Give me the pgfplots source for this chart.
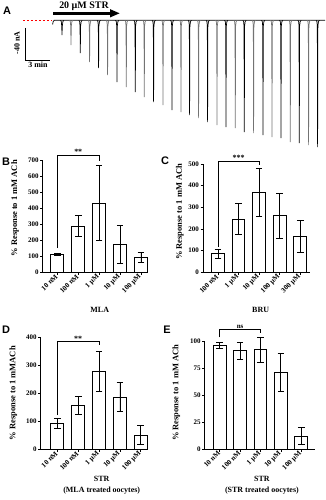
\documentclass[border=0pt]{standalone}
\usepackage{fontspec}
\setmainfont{Liberation Serif}
\newfontfamily\lsans{Liberation Sans}
\usepackage{pgfplots}
\pgfplotsset{compat=1.18}
\usetikzlibrary{arrows.meta}

\pgfplotsset{
  barpanel/.style={
    scale only axis, axis x line*=bottom, axis y line*=left, ymin=0,
    xtick={0,1,2,3,4}, tick align=outside, major tick length=2.5bp,
    every tick/.style={black, line width=0.7pt},
    axis line style={line width=0.9pt},
    clip=false,
    /pgf/number format/assume math mode=true,
    xticklabel style={rotate=45, anchor=east, inner sep=1pt, font=\bfseries\fontsize{7.2}{7.5}\selectfont},
    yticklabel style={inner sep=1.5pt, font=\bfseries\fontsize{7}{7.5}\selectfont},
    ylabel style={font=\bfseries\fontsize{8.5}{9}\selectfont, anchor=center},
    xlabel style={font=\bfseries\fontsize{8}{11}\selectfont, align=center, anchor=center},
  },
  bars/.style={ybar, bar width=0.62, fill=white, draw=black, line width=1pt,
    error bars/y dir=both, error bars/y explicit,
    error bars/error bar style={line width=0.8pt, black},
    error bars/error mark options={rotate=90, mark size=3.3bp, line width=0.8pt, black}},
  bracket/.style={black, line width=0.8pt, mark=none},
}

\begin{document}
\begin{tikzpicture}
\useasboundingbox (0,0) rectangle (326bp,-500bp);

% ---------------- Panel A ----------------
\begin{axis}[at={(0,0)}, anchor=north west, scale only axis, width=326bp, height=150bp,
  xmin=0, xmax=326, ymin=-150, ymax=0, axis lines=none, clip=false]
\addplot[red, line width=0.7pt, dash pattern=on 2.5pt off 1.5pt] coordinates {(23,-20) (51,-20)};
% baseline
\addplot[black, line width=0.7pt] coordinates {(52.6,-24.5) (53.2,-21.5) (54.2,-20.3) (325,-20.3)};
% odd spikes (dark)
\addplot[black, line width=0.7pt, unbounded coords=jump] coordinates {
(60.5,-20.3) (61.3,-21.5) (61.7,-26) (62.0,-35) (62.3,-26) (62.9,-21.5) (63.9,-20.3) (63.9,nan)
(78.8,-20.3) (79.6,-21.5) (80.0,-26) (80.3,-53) (80.6,-26) (81.2,-21.5) (82.2,-20.3) (82.2,nan)
(97.1,-20.3) (97.9,-21.5) (98.3,-26) (98.6,-68) (98.9,-26) (99.5,-21.5) (100.5,-20.3) (100.5,nan)
(115.5,-20.3) (116.3,-21.5) (116.7,-26) (117.0,-82) (117.3,-26) (117.9,-21.5) (118.9,-20.3) (118.9,nan)
(133.8,-20.3) (134.6,-21.5) (135.0,-26) (135.3,-92) (135.6,-26) (136.2,-21.5) (137.2,-20.3) (137.2,nan)
(152.1,-20.3) (152.9,-21.5) (153.3,-26) (153.6,-102) (153.9,-26) (154.5,-21.5) (155.5,-20.3) (155.5,nan)
(170.5,-20.3) (171.3,-21.5) (171.7,-26) (172.0,-110) (172.3,-26) (172.9,-21.5) (173.9,-20.3) (173.9,nan)
(188.1,-20.3) (188.9,-21.5) (189.3,-26) (189.6,-115) (189.9,-26) (190.5,-21.5) (191.5,-20.3) (191.5,nan)
(206.1,-20.3) (206.9,-21.5) (207.3,-26) (207.6,-122) (207.9,-26) (208.5,-21.5) (209.5,-20.3) (209.5,nan)
(224.5,-20.3) (225.3,-21.5) (225.7,-26) (226.0,-127) (226.3,-26) (226.9,-21.5) (227.9,-20.3) (227.9,nan)
(242.8,-20.3) (243.6,-21.5) (244.0,-26) (244.3,-132) (244.6,-26) (245.2,-21.5) (246.2,-20.3) (246.2,nan)
(261.5,-20.3) (262.3,-21.5) (262.7,-26) (263.0,-135) (263.3,-26) (263.9,-21.5) (264.9,-20.3) (264.9,nan)
(279.5,-20.3) (280.3,-21.5) (280.7,-26) (281.0,-138) (281.3,-26) (281.9,-21.5) (282.9,-20.3) (282.9,nan)
(297.8,-20.3) (298.6,-21.5) (299.0,-26) (299.3,-143) (299.6,-26) (300.2,-21.5) (301.2,-20.3) (301.2,nan)
(316.1,-20.3) (316.9,-21.5) (317.3,-26) (317.6,-147) (317.9,-26) (318.5,-21.5) (319.5,-20.3)
};
% even spikes (grey)
\addplot[black!55, line width=0.7pt, unbounded coords=jump] coordinates {
(69.5,-20.3) (70.3,-21.5) (70.7,-26) (71.0,-45) (71.3,-26) (71.9,-21.5) (72.9,-20.3) (72.9,nan)
(88.1,-20.3) (88.9,-21.5) (89.3,-26) (89.6,-62) (89.9,-26) (90.5,-21.5) (91.5,-20.3) (91.5,nan)
(106.1,-20.3) (106.9,-21.5) (107.3,-26) (107.6,-75) (107.9,-26) (108.5,-21.5) (109.5,-20.3) (109.5,nan)
(124.8,-20.3) (125.6,-21.5) (126.0,-26) (126.3,-87) (126.6,-26) (127.2,-21.5) (128.2,-20.3) (128.2,nan)
(142.8,-20.3) (143.6,-21.5) (144.0,-26) (144.3,-97) (144.6,-26) (145.2,-21.5) (146.2,-20.3) (146.2,nan)
(161.5,-20.3) (162.3,-21.5) (162.7,-26) (163.0,-105) (163.3,-26) (163.9,-21.5) (164.9,-20.3) (164.9,nan)
(179.5,-20.3) (180.3,-21.5) (180.7,-26) (181.0,-112) (181.3,-26) (181.9,-21.5) (182.9,-20.3) (182.9,nan)
(197.1,-20.3) (197.9,-21.5) (198.3,-26) (198.6,-118) (198.9,-26) (199.5,-21.5) (200.5,-20.3) (200.5,nan)
(215.5,-20.3) (216.3,-21.5) (216.7,-26) (217.0,-125) (217.3,-26) (217.9,-21.5) (218.9,-20.3) (218.9,nan)
(233.8,-20.3) (234.6,-21.5) (235.0,-26) (235.3,-128) (235.6,-26) (236.2,-21.5) (237.2,-20.3) (237.2,nan)
(252.1,-20.3) (252.9,-21.5) (253.3,-26) (253.6,-133) (253.9,-26) (254.5,-21.5) (255.5,-20.3) (255.5,nan)
(270.5,-20.3) (271.3,-21.5) (271.7,-26) (272.0,-137) (272.3,-26) (272.9,-21.5) (273.9,-20.3) (273.9,nan)
(288.8,-20.3) (289.6,-21.5) (290.0,-26) (290.3,-142) (290.6,-26) (291.2,-21.5) (292.2,-20.3) (292.2,nan)
(307.1,-20.3) (307.9,-21.5) (308.3,-26) (308.6,-145) (308.9,-26) (309.5,-21.5) (310.5,-20.3)
};
% scale bar
\addplot[black, line width=0.8pt] coordinates {(25,-28) (25,-60) (50,-60)};
\node[rotate=90, font=\bfseries\fontsize{8}{8}\selectfont] at (17,-43) {-40 nA};
\node[font=\bfseries\fontsize{8}{8}\selectfont] at (38,-64.5) {3 min};
\node[font=\bfseries\fontsize{10}{10}\selectfont] at (84,-6) {20 µM STR};
\draw[line width=2.6bp, -{Triangle[length=10bp, width=7.5bp]}] (53,-13.3) -- (120,-13.3);
\end{axis}

% ---------------- Panel B ----------------
\begin{axis}[barpanel, at={(42.7bp,-272.3bp)}, anchor=south west,
  width=105.6bp, height=112.3bp, xmin=-0.7, xmax=4.35, ymax=700,
  ytick={0,100,...,700},
  xticklabels={10 nM, 100 nM, 1 µM, 10 µM, 100 µM},
  ylabel={\% Response to 1 mM ACh}, ylabel style={at={(axis description cs:-0.262,0.57)}},
  xlabel={MLA}, xlabel style={at={(axis description cs:0.54,-0.336)}}]
\addplot[bars] coordinates {(0,110) +- (0,5) (1,287) +- (0,66) (2,432) +- (0,235) (3,175) +- (0,118) (4,92) +- (0,33)};
\addplot[bracket] coordinates {(0,151) (0,727) (2,727) (2,692)};
\node[anchor=south, inner sep=0.5pt, font=\bfseries\fontsize{8}{8}\selectfont] at (1,727) {**};
\end{axis}

% ---------------- Panel C ----------------
\begin{axis}[barpanel, at={(203bp,-272.3bp)}, anchor=south west,
  width=106.7bp, height=108.3bp, xmin=-0.73, xmax=4.46, ymax=500,
  ytick={0,100,...,500},
  xticklabels={100 nM, 1 µM, 10 µM, 100 µM, 300 µM},
  ylabel={\% Response to 1 mM ACh}, ylabel style={at={(axis description cs:-0.218,0.56)}},
  xlabel={BRU}, xlabel style={at={(axis description cs:0.54,-0.348)}}]
\addplot[bars] coordinates {(0,85) +- (0,20) (1,246) +- (0,73) (2,368) +- (0,110) (3,260) +- (0,104) (4,166) +- (0,73)};
\addplot[bracket] coordinates {(0,118) (0,511) (2,511) (2,495)};
\node[anchor=south, inner sep=0.5pt, font=\bfseries\fontsize{8}{8}\selectfont] at (1,511) {***};
\end{axis}

% ---------------- Panel D ----------------
\begin{axis}[barpanel, at={(40.7bp,-449.3bp)}, anchor=south west,
  width=107.6bp, height=112bp, xmin=-0.8, xmax=4.36, ymax=400,
  ytick={0,100,...,400},
  xticklabels={10 nM, 100 nM, 1 µM, 10 µM, 100 µM},
  ylabel={\% Response to 1 mMACh}, ylabel style={at={(axis description cs:-0.255,0.5)}},
  xlabel={STR\\(MLA treated oocytes)}, xlabel style={at={(axis description cs:0.567,-0.323)}}]
\addplot[bars] coordinates {(0,93) +- (0,18) (1,157) +- (0,31) (2,278) +- (0,72) (3,186) +- (0,52) (4,51) +- (0,34)};
\addplot[bracket] coordinates {(0,122) (0,384) (2,384) (2,372)};
\node[anchor=south, inner sep=0.5pt, font=\bfseries\fontsize{8}{8}\selectfont] at (1,384) {**};
\end{axis}

% ---------------- Panel E ----------------
\begin{axis}[barpanel, at={(204.7bp,-449bp)}, anchor=south west,
  width=110bp, height=108bp, xmin=-0.74, xmax=4.66, ymax=100,
  ytick={0,25,50,75,100},
  xticklabels={10 nM, 100 nM, 1 µM, 10 µM, 100 µM},
  ylabel={\% Response to 1 mM ACh}, ylabel style={at={(axis description cs:-0.258,0.52)}},
  xlabel={STR\\(STR treated oocytes)}, xlabel style={at={(axis description cs:0.52,-0.338)}}]
\addplot[bars] coordinates {(0,96) +- (0,2.5) (1,91) +- (0,8) (2,92) +- (0,11.7) (3,71) +- (0,17.3) (4,12) +- (0,8)};
\addplot[bracket] coordinates {(0,103.4) (0,110.8) (2,110.8) (2,107.4)};
\node[anchor=south, inner sep=0.8pt, font=\bfseries\fontsize{7}{7}\selectfont] at (1,110.8) {ns};
\end{axis}

% panel letters
\node[font=\lsans\bfseries\fontsize{11}{11}\selectfont] at (7bp,-11bp) {A};
\node[font=\lsans\bfseries\fontsize{11}{11}\selectfont] at (6bp,-162bp) {B};
\node[font=\lsans\bfseries\fontsize{11}{11}\selectfont] at (165bp,-161bp) {C};
\node[font=\lsans\bfseries\fontsize{11}{11}\selectfont] at (6bp,-330bp) {D};
\node[font=\lsans\bfseries\fontsize{11}{11}\selectfont] at (167bp,-330bp) {E};
\end{tikzpicture}
\end{document}
